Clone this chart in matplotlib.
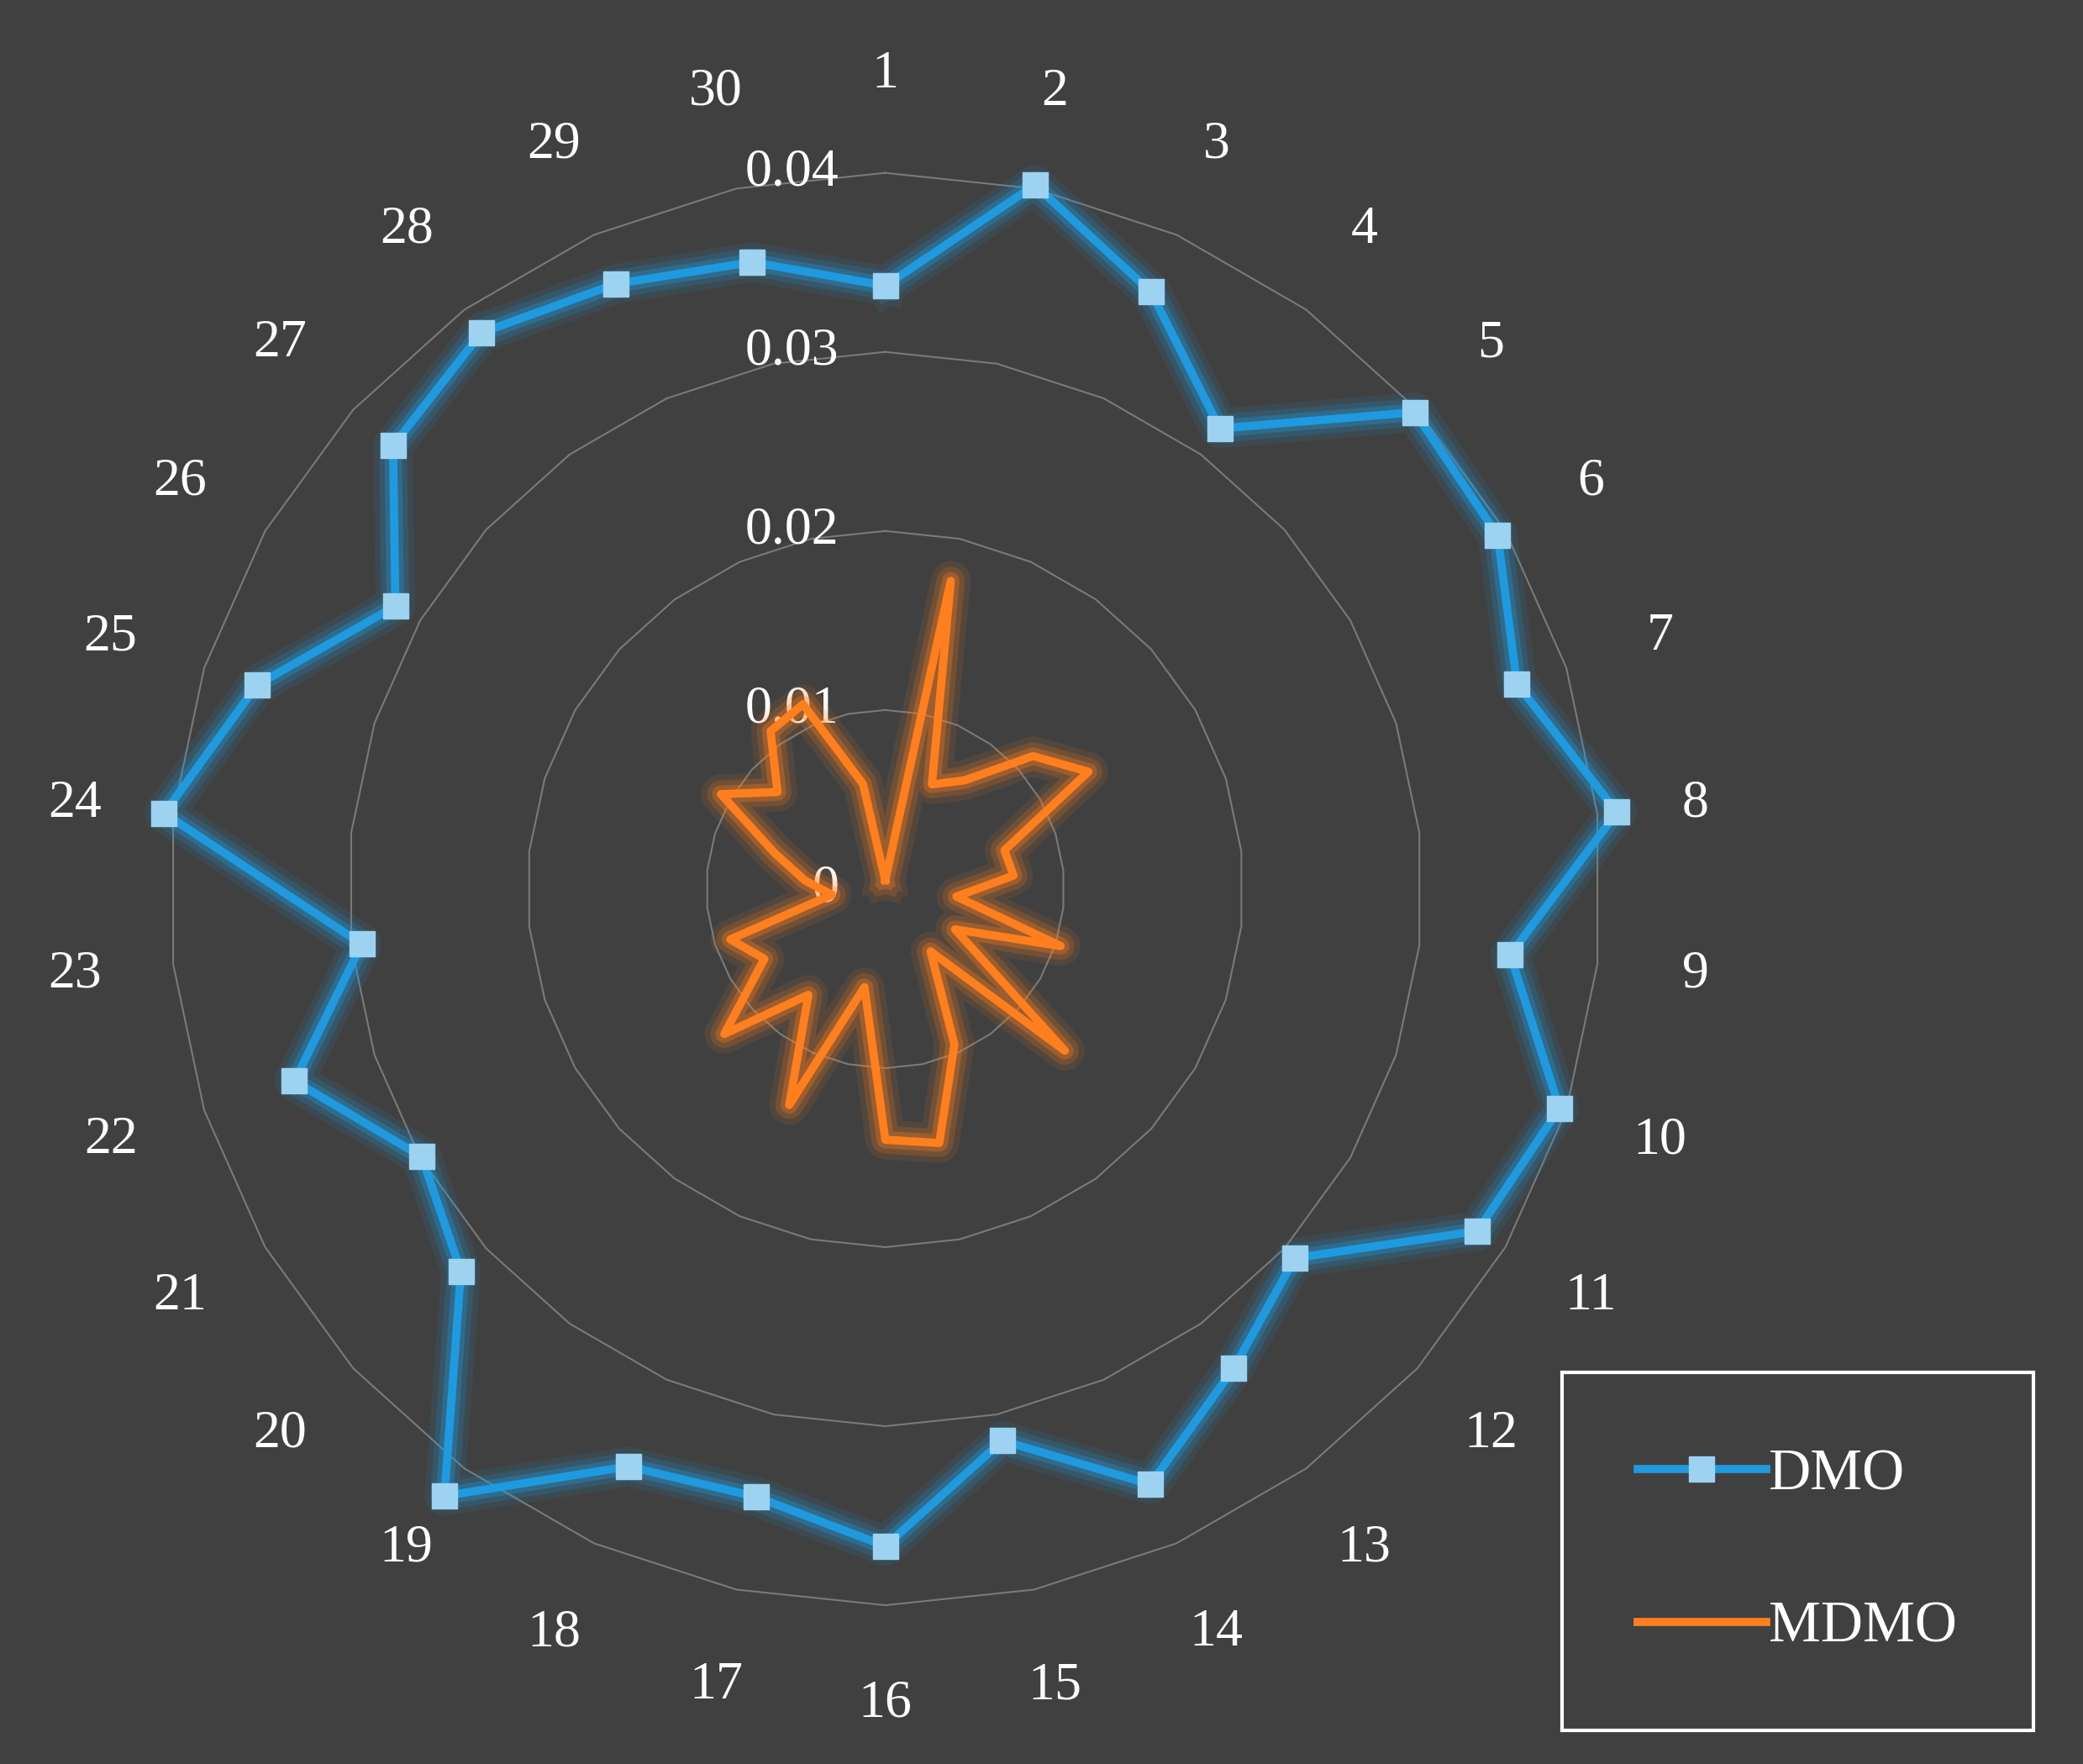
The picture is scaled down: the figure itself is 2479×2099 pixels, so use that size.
import numpy as np
import matplotlib.pyplot as plt
import matplotlib.patheffects as pe

labels = [str(i) for i in range(1, 31)]
dmo = [0.0337, 0.0402, 0.0365, 0.0318, 0.0398, 0.0395, 0.0371, 0.0411, 0.0351, 0.0396,
       0.0382, 0.0308, 0.0331, 0.0364, 0.0315, 0.0367, 0.0347, 0.0353, 0.0419, 0.0319,
       0.0299, 0.0347, 0.0294, 0.0405, 0.0369, 0.0316, 0.0370, 0.0384, 0.0370, 0.0358]
mdmo = [0.0005, 0.0176, 0.0064, 0.0075, 0.0111, 0.0131, 0.0070, 0.0072, 0.0040, 0.0103,
        0.0045, 0.0135, 0.0043, 0.0095, 0.0145, 0.0140, 0.0056, 0.0132, 0.0073, 0.0121,
        0.0078, 0.0091, 0.0030, 0.0045, 0.0065, 0.0106, 0.0081, 0.0109, 0.0113, 0.0060]
rticks = [0, 0.01, 0.02, 0.03, 0.04]

bg = '#404040'
blue = '#1f9ade'
orange = '#ff7f1e'
font = ['Liberation Serif', 'DejaVu Serif']

fig = plt.figure(figsize=(24.79, 20.99), dpi=100, facecolor=bg)
ax = fig.add_axes([0.081, 0.09, 0.688, 0.812], polar=True)
ax.set_facecolor(bg)
ax.set_theta_zero_location('N')
ax.set_theta_direction(-1)
ax.set_ylim(0, 0.04)
ax.grid(False)
ax.spines['polar'].set_visible(False)
ax.set_xticks([])
ax.set_yticks([])

n = len(labels)
theta = np.arange(n) * 2 * np.pi / n
tc = np.append(theta, theta[0])

# polygon gridlines
for r in rticks[1:]:
    ax.plot(tc, [r] * (n + 1), color='#7a7a7a', lw=1.5, zorder=1, clip_on=False)

for r in rticks:
    ax.annotate(str(r) if r else '0', (0, r), xytext=(-40, 0), textcoords='offset points',
                ha='right', va='center', color='white', fontsize=46, family=font)

for t, lab in zip(theta, labels):
    ax.text(t, 0.0455, lab, ha='center', va='center', color='white', fontsize=46, family=font)


def glow(c):
    return [pe.Stroke(linewidth=34, foreground=c, alpha=0.1),
            pe.Stroke(linewidth=24, foreground=c, alpha=0.18),
            pe.Stroke(linewidth=15, foreground=c, alpha=0.3),
            pe.Normal()]


ax.plot(tc, np.append(dmo, dmo[0]), color=blue, lw=7, zorder=3, clip_on=False,
        path_effects=glow(blue))
ax.plot(theta, dmo, ls='none', marker='s', ms=22, mfc='#9dd2f0', mec='#9dd2f0',
        zorder=4, clip_on=False)
ax.plot(tc, np.append(mdmo, mdmo[0]), color=orange, lw=7, zorder=3, clip_on=False,
        path_effects=glow(orange))

# legend
h1, = ax.plot([], [], color=blue, lw=7, marker='s', ms=22, mfc='#9dd2f0', mec='#9dd2f0')
h2, = ax.plot([], [], color=orange, lw=7)
leg = fig.legend([h1, h2], ['DMO', 'MDMO'], loc='lower right', bbox_to_anchor=(0.976, 0.019),
                 facecolor=bg, edgecolor='white', labelcolor='white', fancybox=False,
                 prop={'family': font, 'size': 50}, handlelength=2.2, labelspacing=1.7,
                 borderpad=1.3, handletextpad=0.05, borderaxespad=0, framealpha=1)
leg.get_frame().set_linewidth(3)

fig.savefig('out.png', dpi=100, facecolor=bg)
